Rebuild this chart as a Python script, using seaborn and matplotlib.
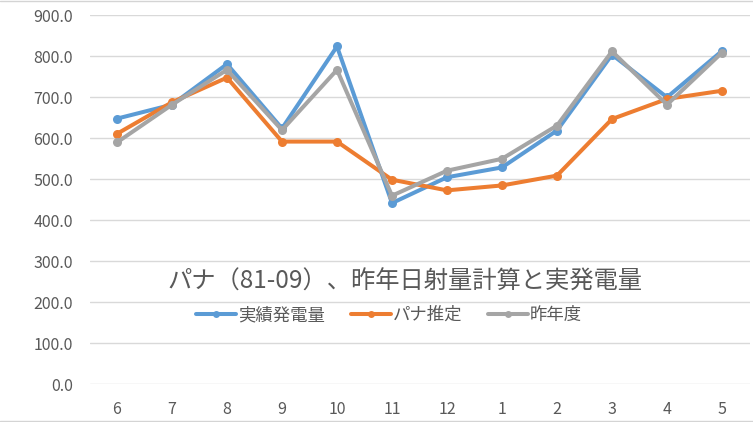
import pandas as pd
import matplotlib
matplotlib.use("Agg")
import matplotlib.pyplot as plt
from matplotlib.lines import Line2D
import seaborn as sns

# 月 (6月〜翌5月)
months = ["6", "7", "8", "9", "10", "11", "12", "1", "2", "3", "4", "5"]

# 系列の値
jisseki = [648, 682, 781, 624, 824, 442, 505, 529, 619, 804, 700, 813]
pana = [611, 688, 748, 592, 592, 499, 473, 485, 509, 647, 696, 716]
sakunendo = [590, 682, 767, 620, 767, 460, 521, 550, 631, 812, 682, 809]

series_names = ["実績発電量", "パナ推定", "昨年度"]
colors = ["#5B9BD5", "#ED7D31", "#A5A5A5"]

df = pd.DataFrame({
    "月": months * 3,
    "値": jisseki + pana + sakunendo,
    "系列": [s for s in series_names for _ in months],
})

sns.set_theme(style="white")
plt.rcParams['font.family'] = ['Noto Sans CJK JP', 'DejaVu Sans']

TXT = "#595959"
GRID = "#D9D9D9"

fig = plt.figure(figsize=(7.53, 4.22), dpi=100)
ax = fig.add_axes([89.5 / 753, 1 - 384.3 / 422, 660 / 753, (384.3 - 15.3) / 422])

sns.lineplot(data=df, x="月", y="値", hue="系列", palette=colors,
             marker="o", markersize=6.5, markeredgewidth=0, linewidth=2.9,
             sort=False, ax=ax, legend=False)

ax.set_xlim(-0.5, len(months) - 0.5)
ax.set_ylim(0, 900)
ax.set_yticks(range(0, 901, 100))
ax.set_yticklabels([f"{v:.1f}" for v in range(0, 901, 100)])
ax.set_xlabel("")
ax.set_ylabel("")
ax.yaxis.grid(True, color=GRID, linewidth=1.0)
ax.set_axisbelow(True)
for s in ax.spines.values():
    s.set_visible(False)
ax.tick_params(axis="y", length=0, pad=12, labelsize=11.5, labelcolor=TXT)
ax.tick_params(axis="x", length=0, pad=12, labelsize=11.5, labelcolor=TXT)

# タイトル (プロット内)
fig.text(405 / 753, 1 - 282 / 422, "パナ（81-09）、昨年日射量計算と実発電量",
         ha="center", va="center", fontsize=17.5, color=TXT)

# 凡例
handles = [Line2D([0], [0], color=c, linewidth=2.9, marker="o", markersize=5,
                  markeredgewidth=0) for c in colors]
fig.legend(handles, series_names, loc="center", bbox_to_anchor=(389 / 753, 1 - 315 / 422),
           ncol=3, frameon=False, fontsize=12.5, labelcolor=TXT,
           handlelength=2.3, handletextpad=0.1, columnspacing=1.5)

# 背景のシート罫線
for yy in (1 / 422, 1 - 1 / 422):
    fig.add_artist(Line2D([0, 1], [yy, yy], color="#D4D4D4", linewidth=1,
                          transform=fig.transFigure))

fig.savefig("out.png", dpi=100)
